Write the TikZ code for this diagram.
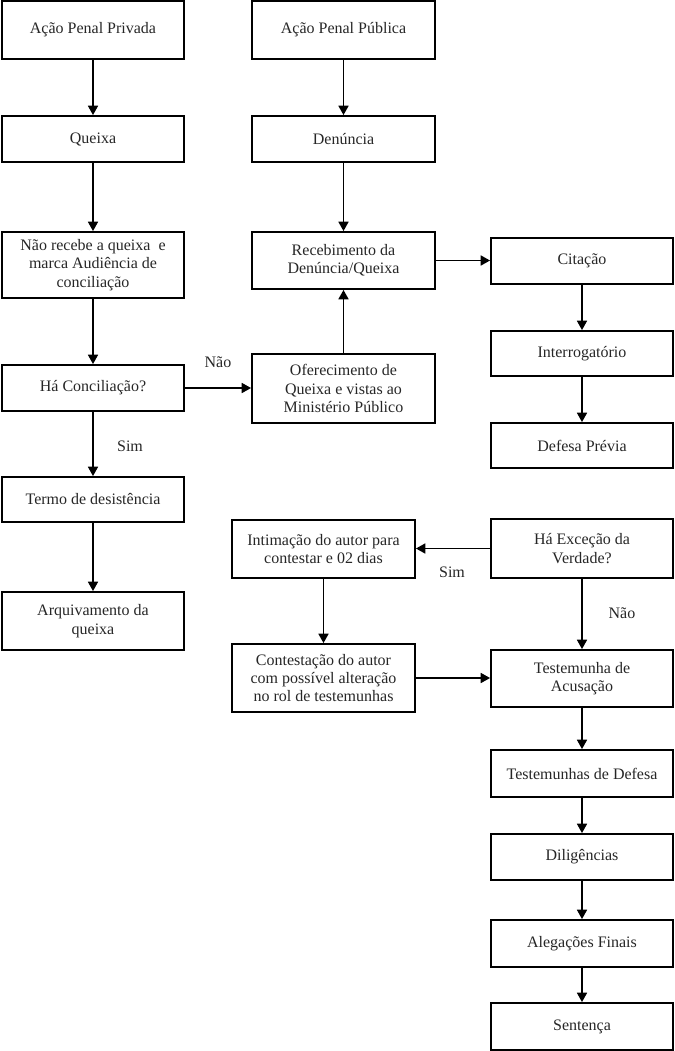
\documentclass[tikz,border=0pt]{standalone}
\usepackage{fontspec}
\setmainfont{Liberation Serif}
\usetikzlibrary{arrows.meta}
\begin{document}
\begin{tikzpicture}[x=0.75pt,y=-0.75pt,
  box/.style={draw=black, line width=1.4pt, inner sep=0pt, align=center,
    font=\fontsize{12}{13.8}\selectfont, text=black!85},
  arr/.style={line width=1.1pt, -{Triangle[width=7.5pt,length=7pt]}},
  lbl/.style={font=\fontsize{12}{13.8}\selectfont, inner sep=0pt, text=black!85}]
\useasboundingbox (0,0) rectangle (675,1051);
% left column
\node[box, minimum width=136.5pt, minimum height=43.5pt] (appriv) at (93,30) {Ação Penal Privada};
\node[box, minimum width=136.5pt, minimum height=34.5pt] (queixa) at (93,139) {Queixa};
\node[box, minimum width=136.5pt, minimum height=49.5pt] (naorec) at (93,265) {Não recebe a queixa \ e\\marca Audiência de\\conciliação};
\node[box, minimum width=136.5pt, minimum height=34.5pt] (haconc) at (93,388) {Há Conciliação?};
\node[box, minimum width=136.5pt, minimum height=33.75pt] (termo) at (93,499.5) {Termo de desistência};
\node[box, minimum width=136.5pt, minimum height=43.5pt] (arquiv) at (93,621) {Arquivamento da\\queixa};
% middle column
\node[box, minimum width=137.25pt, minimum height=43.5pt] (appub) at (343.5,30) {Ação Penal Pública};
\node[box, minimum width=137.25pt, minimum height=34.5pt] (denuncia) at (343.5,139) {Denúncia};
\node[box, minimum width=137.25pt, minimum height=42.75pt] (receb) at (343.5,260.5) {Recebimento da\\Denúncia/Queixa};
\node[box, minimum width=137.25pt, minimum height=51.75pt] (oferec) at (343.5,388.5) {Oferecimento de\\Queixa e vistas ao\\Ministério Público};
% lower middle
\node[box, minimum width=137.25pt, minimum height=43.5pt] (intim) at (323.5,549) {Intimação do autor para\\contestar e 02 dias};
\node[box, minimum width=137.25pt, minimum height=51pt] (contest) at (323.5,678) {Contestação do autor\\com possível alteração\\no rol de testemunhas};
% right column
\node[box, minimum width=136.5pt, minimum height=34.5pt] (citacao) at (582,261) {Citação};
\node[box, minimum width=136.5pt, minimum height=33.75pt] (interrog) at (582,353.5) {Interrogatório};
\node[box, minimum width=136.5pt, minimum height=33.75pt] (defprev) at (582,445.5) {Defesa Prévia};
\node[box, minimum width=136.5pt, minimum height=44.25pt] (excecao) at (582,548.5) {Há Exceção da\\Verdade?};
\node[box, minimum width=136.5pt, minimum height=42.75pt] (testac) at (582,678.5) {Testemunha de\\Acusação};
\node[box, minimum width=136.5pt, minimum height=35.25pt] (testdef) at (582,773.5) {Testemunhas de Defesa};
\node[box, minimum width=136.5pt, minimum height=34.5pt] (dilig) at (582,857) {Diligências};
\node[box, minimum width=136.5pt, minimum height=35.25pt] (aleg) at (582,943.5) {Alegações Finais};
\node[box, minimum width=136.5pt, minimum height=35.25pt] (sent) at (582,1026.5) {Sentença};
% connectors
\draw[arr] (appriv) -- (queixa);
\draw[arr] (queixa) -- (naorec);
\draw[arr] (naorec) -- (haconc);
\draw[arr] (haconc) -- (termo);
\draw[arr] (termo) -- (arquiv);
\draw[arr] (haconc.east) -- (oferec.west |- haconc.east);
\draw[arr] (oferec) -- (receb);
\draw[arr] (appub) -- (denuncia);
\draw[arr] (denuncia) -- (receb);
\draw[arr] (receb.east) -- (citacao.west |- receb.east);
\draw[arr] (citacao) -- (interrog);
\draw[arr] (interrog) -- (defprev);
\draw[arr] (excecao.west) -- (intim.east |- excecao.west);
\draw[arr] (intim) -- (contest);
\draw[arr] (excecao) -- (testac);
\draw[arr] (contest.east) -- (testac.west |- contest.east);
\draw[arr] (testac) -- (testdef);
\draw[arr] (testdef) -- (dilig);
\draw[arr] (dilig) -- (aleg);
\draw[arr] (aleg) -- (sent);
% labels
\node[lbl] (lnao1) at (218,362) {Não};
\node[lbl] (lsim1) at (130,446) {Sim};
\node[lbl] (lsim2) at (452,572) {Sim};
\node[lbl] (lnao2) at (622,613) {Não};
\end{tikzpicture}
\end{document}
